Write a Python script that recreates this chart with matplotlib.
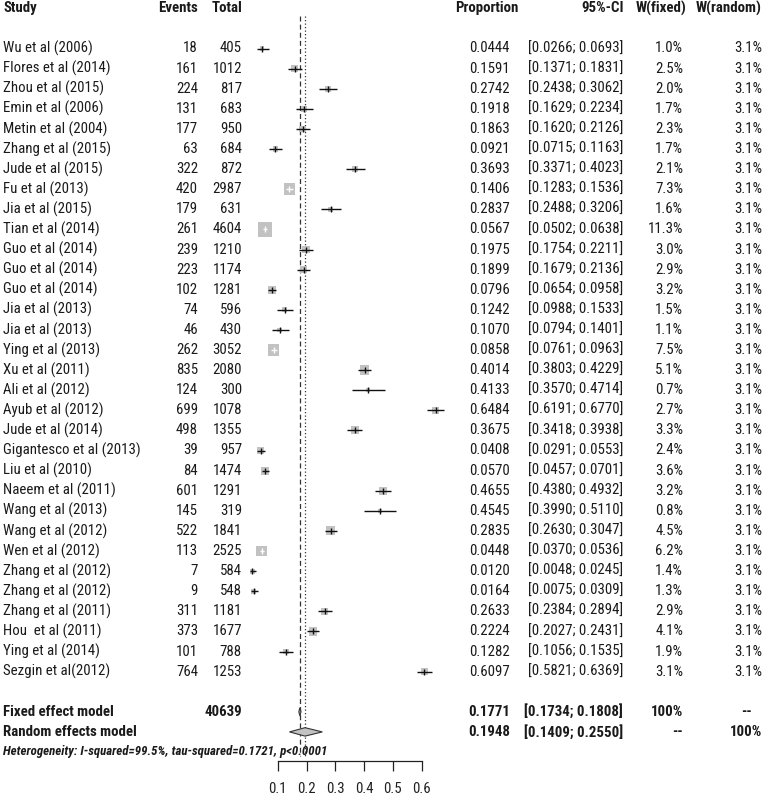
import matplotlib
matplotlib.use('Agg')
import matplotlib.pyplot as plt
from matplotlib import font_manager
from matplotlib.transforms import blended_transform_factory
import numpy as np

studies = ["Wu et al (2006)", "Flores et al (2014)", "Zhou et al (2015)", "Emin et al (2006)",
           "Metin et al (2004)", "Zhang et al (2015)", "Jude et al (2015)", "Fu et al (2013)",
           "Jia et al (2015)", "Tian et al (2014)", "Guo et al (2014)", "Guo et al (2014)",
           "Guo et al (2014)", "Jia et al (2013)", "Jia et al (2013)", "Ying et al (2013)",
           "Xu et al (2011)", "Ali et al (2012)", "Ayub et al (2012)", "Jude et al (2014)",
           "Gigantesco et al (2013)", "Liu et al (2010)", "Naeem et al (2011)", "Wang et al (2013)",
           "Wang et al (2012)", "Wen et al (2012)", "Zhang et al (2012)", "Zhang et al (2012)",
           "Zhang et al (2011)", "Hou  et al (2011)", "Ying et al (2014)", "Sezgin et al(2012)"]
events = [18, 161, 224, 131, 177, 63, 322, 420, 179, 261, 239, 223, 102, 74, 46, 262,
          835, 124, 699, 498, 39, 84, 601, 145, 522, 113, 7, 9, 311, 373, 101, 764]
totals = [405, 1012, 817, 683, 950, 684, 872, 2987, 631, 4604, 1210, 1174, 1281, 596, 430, 3052,
          2080, 300, 1078, 1355, 957, 1474, 1291, 319, 1841, 2525, 584, 548, 1181, 1677, 788, 1253]
prop = [0.0444, 0.1591, 0.2742, 0.1918, 0.1863, 0.0921, 0.3693, 0.1406, 0.2837, 0.0567, 0.1975,
        0.1899, 0.0796, 0.1242, 0.1070, 0.0858, 0.4014, 0.4133, 0.6484, 0.3675, 0.0408, 0.0570,
        0.4655, 0.4545, 0.2835, 0.0448, 0.0120, 0.0164, 0.2633, 0.2224, 0.1282, 0.6097]
lower = [0.0266, 0.1371, 0.2438, 0.1629, 0.1620, 0.0715, 0.3371, 0.1283, 0.2488, 0.0502, 0.1754,
         0.1679, 0.0654, 0.0988, 0.0794, 0.0761, 0.3803, 0.3570, 0.6191, 0.3418, 0.0291, 0.0457,
         0.4380, 0.3990, 0.2630, 0.0370, 0.0048, 0.0075, 0.2384, 0.2027, 0.1056, 0.5821]
upper = [0.0693, 0.1831, 0.3062, 0.2234, 0.2126, 0.1163, 0.4023, 0.1536, 0.3206, 0.0638, 0.2211,
         0.2136, 0.0958, 0.1533, 0.1401, 0.0963, 0.4229, 0.4714, 0.6770, 0.3938, 0.0553, 0.0701,
         0.4932, 0.5110, 0.3047, 0.0536, 0.0245, 0.0309, 0.2894, 0.2431, 0.1535, 0.6369]
w_fixed = [1.0, 2.5, 2.0, 1.7, 2.3, 1.7, 2.1, 7.3, 1.6, 11.3, 3.0, 2.9, 3.2, 1.5, 1.1, 7.5,
           5.1, 0.7, 2.7, 3.3, 2.4, 3.6, 3.2, 0.8, 4.5, 6.2, 1.4, 1.3, 2.9, 4.1, 1.9, 3.1]
w_random = [3.1] * 32

total_n = 40639
fixed = (0.1771, 0.1734, 0.1808)
random_ = (0.1948, 0.1409, 0.2550)
het_text = "Heterogeneity: I-squared=99.5%, tau-squared=0.1721, p<0.0001"
axis_ticks = [0.1, 0.2, 0.3, 0.4, 0.5, 0.6]


def weight_num(w):
    if isinstance(w, str):
        return font_manager.weight_dict.get(w, 400)
    return int(w)


# narrow sans that also has a bold face
has_bold = {}
for f in font_manager.fontManager.ttflist:
    if weight_num(f.weight) >= 600 and f.style == 'normal':
        has_bold[f.name] = True
FAM = 'Liberation Sans'
for pref in ('Liberation Sans Narrow', 'Roboto Condensed', 'Archivo Narrow', 'PT Sans Narrow',
             'Fira Sans Condensed', 'IBM Plex Sans Condensed'):
    if has_bold.get(pref):
        FAM = pref
        break
plt.rcParams['font.family'] = [FAM, 'DejaVu Sans']
TXT = '#1a1a1a'

# geometry (pixels)
W, H = 765, 800
ROW0, ROWH = 48.5, 20.1
X01, PXU = 277.7, 288.0   # pixel of 0.1, pixels per unit

fig = plt.figure(figsize=(W / 100, H / 100), dpi=100)
renderer = fig.canvas.get_renderer()


def fit_size(s, target_px, **kw):
    t = fig.text(0, 0, s, fontsize=10, **kw)
    w = t.get_window_extent(renderer).width
    t.remove()
    return 10.0 * target_px / w


# sizes tuned to the widths seen in the chart
FS = fit_size('Gigantesco et al (2013)', 136)
FS_HET = fit_size(het_text, 324, fontstyle='italic', fontweight='bold')

ax = fig.add_axes([0, 0, 1, 1])
ax.set_xlim(0.1 - X01 / PXU, 0.1 + (W - X01) / PXU)
ax.set_ylim((H - ROW0) / ROWH, -ROW0 / ROWH)
ax.axis('off')
tr = blended_transform_factory(ax.transAxes, ax.transData)


def put(xpx, row, s, ha='right', **kw):
    ax.text(xpx / W, row, s, ha=ha, va='center', transform=tr, fontsize=kw.pop('fontsize', FS),
            color=TXT, **kw)


# header
hdr = -2
put(3, hdr, 'Study', ha='left', fontweight='bold')
put(198, hdr, 'Events', fontweight='bold')
put(242, hdr, 'Total', fontweight='bold')
put(518, hdr, 'Proportion', fontweight='bold')
put(624, hdr, '95%-CI', fontweight='bold')
put(686, hdr, 'W(fixed)', fontweight='bold')
put(762, hdr, 'W(random)', fontweight='bold')

n = len(studies)

# reference lines
ax.vlines(fixed[0], -1.6, 35.2, colors='#333333', linestyles=(0, (4, 2.5)), lw=0.9, zorder=1)
ax.vlines(random_[0], -1.6, 35.2, colors='#333333', linestyles=(0, (1, 1.8)), lw=0.9, zorder=1)

# studies
for i in range(n):
    put(3, i, studies[i], ha='left')
    put(198, i, str(events[i]))
    put(242, i, str(totals[i]))
    put(510, i, '%.4f' % prop[i])
    put(623, i, '[%.4f; %.4f]' % (lower[i], upper[i]))
    put(683, i, '%.1f%%' % w_fixed[i])
    put(762, i, '%.1f%%' % w_random[i])

    side_px = 4.3 * np.sqrt(w_fixed[i])
    ext_px = max(prop[i] - lower[i], upper[i] - prop[i]) * PXU
    inside = ext_px < 0.7 * side_px / 2
    lc = 'white' if inside else '#111111'
    ax.scatter([prop[i]], [i], marker='s', s=(side_px * 0.72) ** 2, color='#c2c2c2',
               edgecolors='none', zorder=2)
    ax.plot([lower[i], upper[i]], [i, i], color=lc, lw=1.0, zorder=3, solid_capstyle='butt')
    ax.plot([prop[i]], [i], marker='|', ms=4.0, mew=1.0, color=lc, zorder=4)

# summaries
rf, rr, rh = 33, 34, 35
put(3, rf, 'Fixed effect model', ha='left', fontweight='bold')
put(242, rf, str(total_n), fontweight='bold')
put(510, rf, '%.4f' % fixed[0], fontweight='bold')
put(623, rf, '[%.4f; %.4f]' % (fixed[1], fixed[2]), fontweight='bold')
put(683, rf, '100%', fontweight='bold')
put(752, rf, '--', fontweight='bold')

put(3, rr, 'Random effects model', ha='left', fontweight='bold')
put(510, rr, '%.4f' % random_[0], fontweight='bold')
put(623, rr, '[%.4f; %.4f]' % (random_[1], random_[2]), fontweight='bold')
put(683, rr, '--', fontweight='bold')
put(762, rr, '100%', fontweight='bold')

put(3, rh, het_text, ha='left', fontstyle='italic', fontweight='bold', fontsize=FS_HET)

dh = 0.21
for (est, lo, hi), r in ((fixed, rf), (random_, rr)):
    ax.fill([lo, est, hi, est], [r, r - dh, r, r + dh], facecolor='#c2c2c2',
            edgecolor='#333333', lw=0.8, zorder=3)

# x axis
ax2 = fig.add_axes([X01 / W, (H - 761) / H, 0.5 * PXU / W, 0.0005])
ax2.set_xlim(axis_ticks[0], axis_ticks[-1])
ax2.set_xticks(axis_ticks)
ax2.set_xticklabels([str(t) for t in axis_ticks])
ax2.set_yticks([])
for s in ('left', 'right', 'top'):
    ax2.spines[s].set_visible(False)
ax2.spines['bottom'].set_linewidth(0.9)
ax2.spines['bottom'].set_color('#222222')
ax2.tick_params(axis='x', direction='out', length=7.2, width=0.9, pad=8, labelsize=FS,
                colors='#222222')
ax2.patch.set_alpha(0)

fig.savefig('out.png', dpi=100, facecolor='white')
